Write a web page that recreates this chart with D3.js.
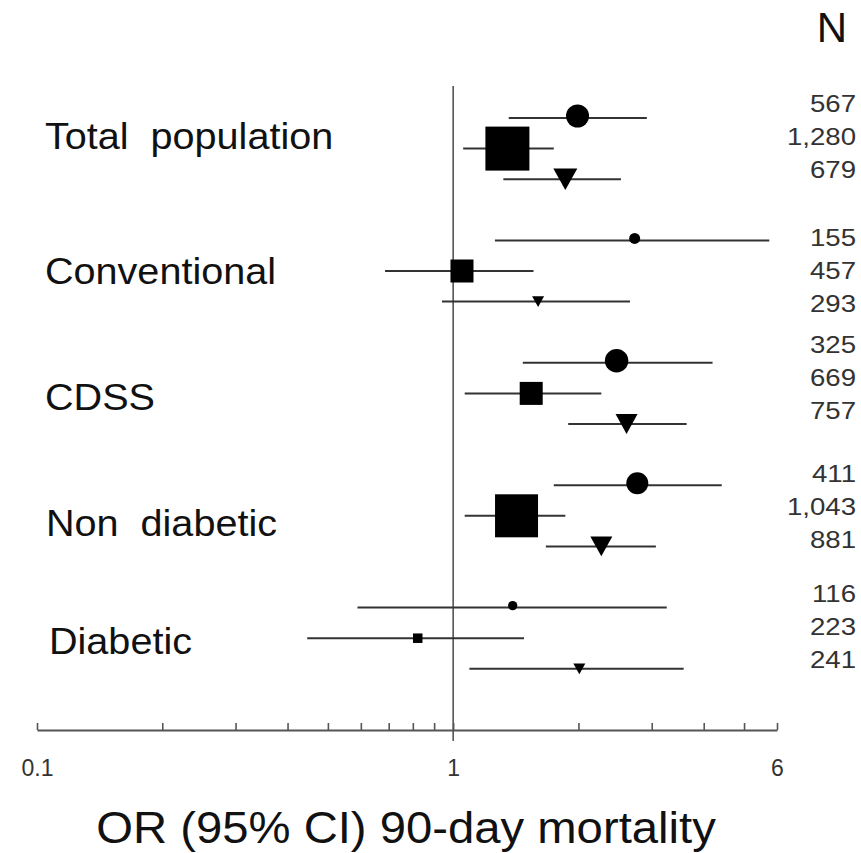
<!DOCTYPE html>
<html>
<head>
<meta charset="utf-8">
<script src="https://cdn.jsdelivr.net/npm/d3@7"></script>
<style>
  body { margin: 0; background: #fff; }
  text { font-family: "Liberation Sans", Arial, sans-serif; white-space: pre; }
</style>
</head>
<body>
<div id="chart"></div>
<script>
// groups (top to bottom)
const groups = ["Total  population", "Conventional", "CDSS", "Non  diabetic", "Diabetic"];

// circle series
const circleOR = [1.99, 2.73, 2.47, 2.77, 1.39];
const circleLo = [1.36, 1.26, 1.47, 1.745, 0.589];
const circleHi = [2.92, 5.75, 4.20, 4.42, 3.26];
const circleN = [567, 155, 325, 411, 116];
const circleW = [2.3, 1.1, 2.35, 2.2, 0.93];

// square series
const squareOR = [1.35, 1.05, 1.54, 1.42, 0.822];
const squareLo = [1.057, 0.686, 1.066, 1.066, 0.446];
const squareHi = [1.745, 1.56, 2.27, 1.86, 1.48];
const squareN = [1280, 457, 669, 1043, 223];
const squareW = [4.4, 2.3, 2.3, 4.3, 0.95];

// triangle series
const triOR = [1.86, 1.60, 2.61, 2.27, 2.01];
const triLo = [1.32, 0.94, 1.89, 1.67, 1.094];
const triHi = [2.53, 2.66, 3.64, 3.07, 3.58];
const triN = [679, 293, 757, 881, 241];
const triW = [2.4, 1.2, 2.2, 2.2, 1.2];

const tickValues = [0.1, 0.2, 0.3, 0.4, 0.5, 0.6, 0.7, 0.8, 0.9, 1, 2, 3, 4, 5, 6];
const tickLabels = [0.1, 1, 6];

const W = 861, H = 853;

// layout nudges
const labelDy = [0, 13, 17, 20, 16];
const labelX = [45, 45, 45, 46, 49];
const nDy = [-15, -3, -18, -12, -14];

const series = [
  { shape: "circle", or: circleOR, lo: circleLo, hi: circleHi, n: circleN, w: circleW },
  { shape: "square", or: squareOR, lo: squareLo, hi: squareHi, n: squareN, w: squareW },
  { shape: "triangle", or: triOR, lo: triLo, hi: triHi, n: triN, w: triW }
];

const rows = [];
groups.forEach((g, gi) => {
  series.forEach((s, si) => {
    rows.push({ group: gi, k: si, shape: s.shape, or: s.or[gi], lo: s.lo[gi], hi: s.hi[gi], n: s.n[gi], w: s.w[gi] });
  });
});

const x = d3.scaleLog().domain([0.1, 6]).range([37, 777]);
const y = d3.scaleLinear().domain([0, 18]).range([118, 668.8]);
const rowY = d => y(d.group * 4 + d.k);
const size = d3.scaleLinear().domain([0, 1]).range([0, 10]);

const svg = d3.select("#chart").append("svg")
  .attr("width", W)
  .attr("height", H)
  .style("background", "#fff");

function stretched(sel, sx) {
  return sel.attr("transform", function () {
    const t = d3.select(this);
    return `translate(${t.attr("data-x")},${t.attr("data-y")}) scale(${sx},1)`;
  });
}

// reference line at OR = 1
svg.append("line")
  .attr("x1", x(1)).attr("x2", x(1))
  .attr("y1", 86).attr("y2", 741)
  .attr("stroke", "#555")
  .attr("stroke-width", 1.6);

// axis
const axisY = 730;
const axis = svg.append("g")
  .attr("transform", `translate(0,${axisY})`)
  .call(d3.axisBottom(x)
    .tickValues(tickValues)
    .tickSizeInner(-7)
    .tickSizeOuter(0)
    .tickPadding(30)
    .tickFormat(d => tickLabels.includes(d) ? d3.format("")(d) : ""));
axis.select(".domain").attr("stroke", "#555").attr("stroke-width", 2);
axis.selectAll(".tick line").attr("stroke", "#555").attr("stroke-width", 1.6);
axis.selectAll(".tick text")
  .attr("fill", "#333")
  .style("font-size", "23px")
  .style("font-family", "'Liberation Sans', Arial, sans-serif");

// CI lines
svg.selectAll("line.ci")
  .data(rows)
  .enter()
  .append("line")
  .attr("class", "ci")
  .attr("x1", d => x(d.lo))
  .attr("x2", d => x(d.hi))
  .attr("y1", rowY)
  .attr("y2", rowY)
  .attr("stroke", "#333")
  .attr("stroke-width", 2);

// markers
svg.selectAll("circle.pt")
  .data(rows.filter(d => d.shape === "circle"))
  .enter()
  .append("circle")
  .attr("class", "pt")
  .attr("cx", d => x(d.or))
  .attr("cy", d => rowY(d) - 2)
  .attr("r", d => size(d.w) / 2)
  .attr("fill", "#000");

svg.selectAll("rect.pt")
  .data(rows.filter(d => d.shape === "square"))
  .enter()
  .append("rect")
  .attr("class", "pt")
  .attr("x", d => x(d.or) - size(d.w) / 2)
  .attr("y", d => rowY(d) - size(d.w) / 2)
  .attr("width", d => size(d.w))
  .attr("height", d => size(d.w))
  .attr("fill", "#000");

svg.selectAll("path.pt")
  .data(rows.filter(d => d.shape === "triangle"))
  .enter()
  .append("path")
  .attr("class", "pt")
  .attr("d", d => {
    const cx = x(d.or), cy = rowY(d), s = size(d.w), h = s * 0.9;
    return `M${cx - s / 2},${cy - h / 2}L${cx + s / 2},${cy - h / 2}L${cx},${cy + h / 2}Z`;
  })
  .attr("fill", "#000");

// group labels
svg.selectAll("text.group")
  .data(groups)
  .enter()
  .append("text")
  .attr("class", "group")
  .attr("data-x", (d, i) => labelX[i])
  .attr("data-y", (d, i) => y(i * 4 + 1) + labelDy[i])
  .style("font-size", "37px")
  .attr("fill", "#111")
  .text(d => d)
  .call(stretched, 1.07);

// N column
svg.append("text")
  .attr("data-x", 847)
  .attr("data-y", 42)
  .attr("text-anchor", "end")
  .style("font-size", "42px")
  .attr("fill", "#111")
  .text("N")
  .call(stretched, 1);

svg.selectAll("text.n")
  .data(rows)
  .enter()
  .append("text")
  .attr("class", "n")
  .attr("data-x", 856)
  .attr("data-y", d => y(d.group * 4) + nDy[d.group] + d.k * 33 + 8.5)
  .attr("text-anchor", "end")
  .style("font-size", "24px")
  .attr("fill", "#333")
  .text(d => d3.format(",")(d.n))
  .call(stretched, 1.15);

// x title
svg.append("text")
  .attr("data-x", 406)
  .attr("data-y", 843)
  .attr("text-anchor", "middle")
  .style("font-size", "45px")
  .attr("fill", "#111")
  .text("OR (95% CI) 90-day mortality")
  .call(stretched, 1.05);
</script>
</body>
</html>
